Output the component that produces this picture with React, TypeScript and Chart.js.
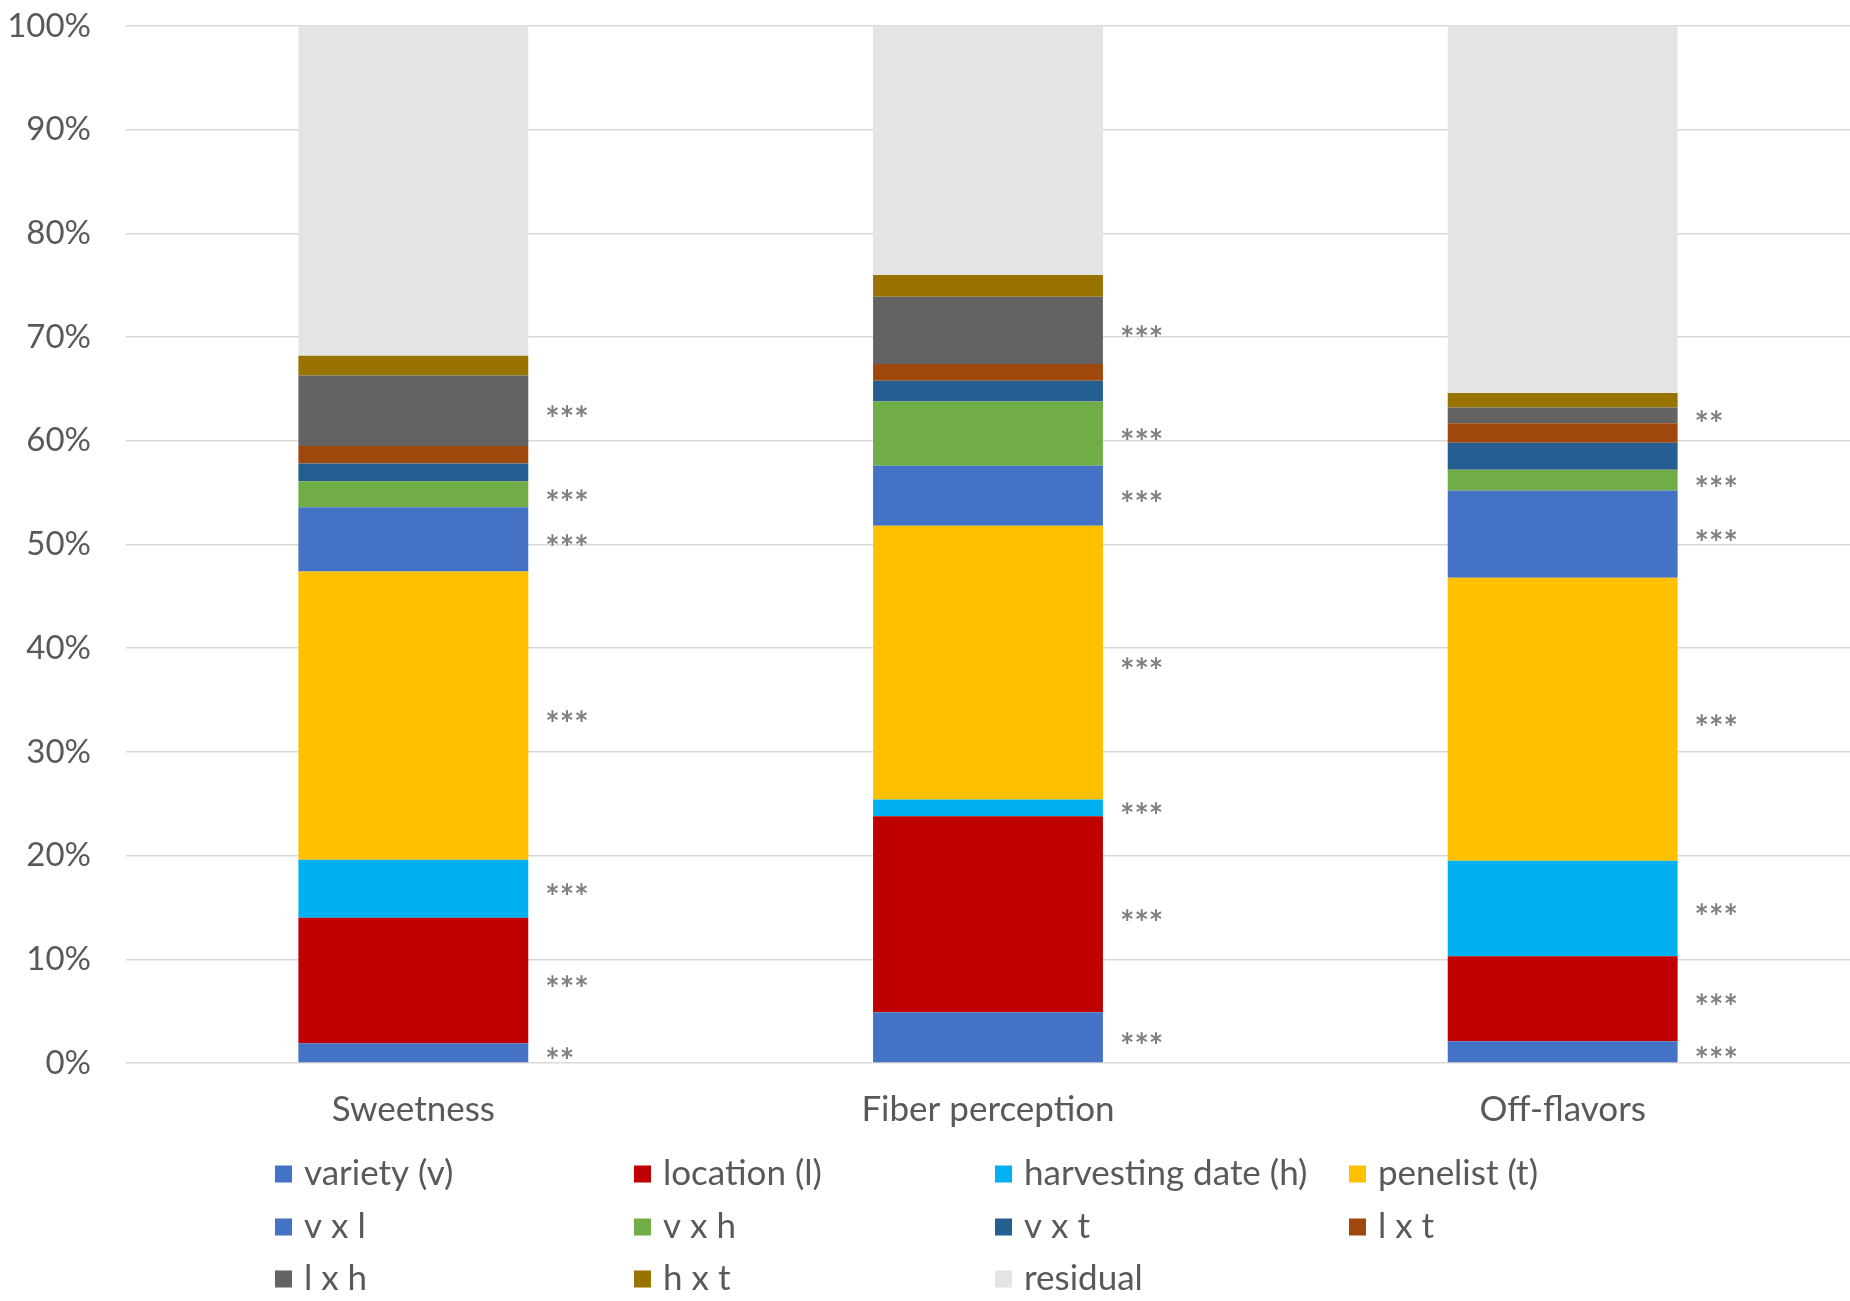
import { useEffect, useRef } from "react";
import { Chart, registerables } from "chart.js";

Chart.register(...registerables);

// ---- data ----
const categories = ["Sweetness", "Fiber perception", "Off-flavors"];
const seriesNames = [
  "variety (v)",
  "location (l)",
  "harvesting date (h)",
  "penelist (t)",
  "v x l",
  "v x h",
  "v x t",
  "l x t",
  "l x h",
  "h x t",
  "residual",
];
const variety = [1.9, 4.9, 2.1];
const location = [12.1, 18.9, 8.2];
const harvestingDate = [5.6, 1.6, 9.2];
const penelist = [27.8, 26.4, 27.3];
const vxl = [6.2, 5.8, 8.4];
const vxh = [2.5, 6.2, 2.0];
const vxt = [1.7, 2.0, 2.6];
const lxt = [1.7, 1.6, 1.9];
const lxh = [6.8, 6.5, 1.5];
const hxt = [1.9, 2.1, 1.4];
const residual = [31.8, 24.0, 35.4];

const sigVariety = ["**", "***", "***"];
const sigLocation = ["***", "***", "***"];
const sigHarvesting = ["***", "***", "***"];
const sigPenelist = ["***", "***", "***"];
const sigVxl = ["***", "***", "***"];
const sigVxh = ["***", "***", "***"];
const sigLxh = ["***", "***", "**"];
const sigNone = ["", "", ""];

const yTickValues = [0, 10, 20, 30, 40, 50, 60, 70, 80, 90, 100];

// ---- styles ----
const colors = [
  "#4472C4",
  "#C00000",
  "#00B0F0",
  "#FFC000",
  "#4472C4",
  "#70AD47",
  "#255E91",
  "#9E480E",
  "#636363",
  "#997300",
  "#E4E4E4",
];
const FONT = "Lato, 'Open Sans', sans-serif";
const TEXT = "#595959";

const seriesValues = [
  variety,
  location,
  harvestingDate,
  penelist,
  vxl,
  vxh,
  vxt,
  lxt,
  lxh,
  hxt,
  residual,
];
const seriesSig = [
  sigVariety,
  sigLocation,
  sigHarvesting,
  sigPenelist,
  sigVxl,
  sigVxh,
  sigNone,
  sigNone,
  sigLxh,
  sigNone,
  null,
];

const starsPlugin = {
  id: "stars",
  afterDatasetsDraw(chart: any) {
    const ctx = chart.ctx;
    ctx.save();
    const size = 34;
    ctx.font = `bold ${size}px ${FONT}`;
    ctx.fillStyle = "#7F7F7F";
    ctx.textAlign = "left";
    ctx.textBaseline = "alphabetic";
    chart.data.datasets.forEach((ds: any, i: number) => {
      const sig = ds.sig;
      if (!sig) return;
      const meta = chart.getDatasetMeta(i);
      meta.data.forEach((el: any, j: number) => {
        const s = sig[j];
        if (!s) return;
        const p = el.getProps(["x", "y", "base", "width"], true);
        const cy = (p.y + p.base) / 2;
        ctx.fillText(s, p.x + p.width / 2 + 17, cy + size * 0.6);
      });
    });
    ctx.restore();
  },
};

const legendPlugin = {
  id: "gridLegend",
  afterDraw(chart: any) {
    const ctx = chart.ctx;
    const cols = [275, 634, 995, 1349];
    const rows = [1174, 1227, 1279];
    const box = 17;
    ctx.save();
    ctx.font = `35px ${FONT}`;
    ctx.textAlign = "left";
    ctx.textBaseline = "middle";
    chart.data.datasets.forEach((ds: any, i: number) => {
      const c = i % 4;
      const r = Math.floor(i / 4);
      const x = cols[c];
      const y = rows[r];
      ctx.fillStyle = ds.backgroundColor;
      ctx.fillRect(x, y - box / 2, box, box);
      ctx.fillStyle = TEXT;
      ctx.fillText(ds.label, x + box + 12, y);
    });
    ctx.restore();
  },
};

export default function App() {
  const ref = useRef<HTMLCanvasElement | null>(null);

  useEffect(() => {
    document.body.style.margin = "0";
    const canvas = ref.current;
    if (!canvas) return;
    const datasets = seriesNames.map((name, i) => ({
      label: name,
      data: seriesValues[i],
      backgroundColor: colors[i],
      borderWidth: 0,
      barPercentage: 0.4,
      categoryPercentage: 1.0,
      sig: seriesSig[i],
    }));
    const chart = new Chart(canvas, {
      type: "bar",
      data: { labels: categories, datasets: datasets as any },
      options: {
        animation: false,
        responsive: false,
        devicePixelRatio: 1,
        layout: { padding: { left: 8, right: 0, top: 26, bottom: 144 } },
        plugins: {
          legend: { display: false },
          tooltip: { enabled: false },
        },
        scales: {
          x: {
            stacked: true,
            grid: { display: false, drawTicks: false },
            border: { display: false },
            ticks: {
              color: TEXT,
              font: { family: FONT, size: 35 },
              padding: 26,
            },
          },
          y: {
            stacked: true,
            min: 0,
            max: 100,
            afterBuildTicks: (scale: any) => {
              scale.ticks = yTickValues.map((v) => ({ value: v }));
            },
            afterFit: (scale: any) => {
              scale.width = 118;
              scale.paddingTop = 0;
              scale.paddingBottom = 0;
            },
            ticks: {
              color: TEXT,
              font: { family: FONT, size: 33 },
              padding: 35,
              callback: (v: any) => `${v}%`,
            },
            grid: { color: "#D9D9D9", lineWidth: 1.5, drawTicks: false },
            border: { display: false },
          },
        },
      },
      plugins: [starsPlugin, legendPlugin],
    });
    return () => chart.destroy();
  }, []);

  return (
    <div style={{ width: 1850, height: 1301, background: "#fff" }}>
      <canvas ref={ref} width={1850} height={1301} style={{ display: "block" }} />
    </div>
  );
}
